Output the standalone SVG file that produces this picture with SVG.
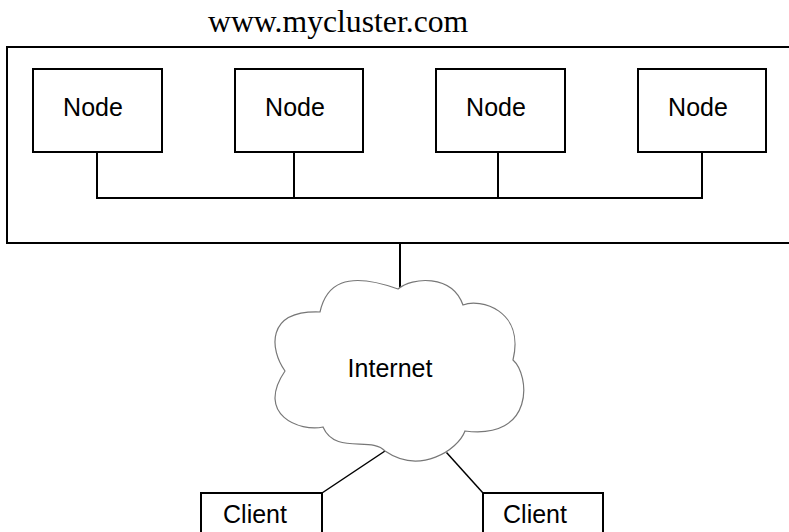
<svg xmlns="http://www.w3.org/2000/svg" width="789" height="532" viewBox="0 0 789 532">
<style>
.box{fill:#fff;stroke:#000;stroke-width:2}
.lbl{font-family:"Liberation Sans",Arial,sans-serif;font-size:25px;fill:#000;text-anchor:middle}
.ttl{font-family:"Liberation Serif","Times New Roman",serif;font-size:31.7px;fill:#000}
.wire{fill:none;stroke:#000;stroke-width:2}
.cwire{fill:none;stroke:#000;stroke-width:1.5}
.cloud{fill:#fff;stroke:#777;stroke-width:1.2}
</style>
<rect width="789" height="532" fill="#fff"/>
<text class="ttl" x="208" y="32">www.mycluster.com</text>
<g id="cluster">
<rect class="box" x="7" y="47" width="800" height="196"/>
</g>
<g id="connectors">
<path class="wire" d="M97 152V198H702V152M294 152V198M498 152V198"/>
<path class="wire" d="M400 243V289"/>
<path class="cwire" d="M322 493L385 451"/>
<path class="cwire" d="M483 493L446.5 452.5"/>
</g>
<g id="node1"><rect class="box" x="33" y="69" width="129" height="83"/><text class="lbl" x="93" y="116">Node</text></g>
<g id="node2"><rect class="box" x="235" y="69" width="128" height="83"/><text class="lbl" x="295" y="116">Node</text></g>
<g id="node3"><rect class="box" x="436" y="69" width="129" height="83"/><text class="lbl" x="496" y="116">Node</text></g>
<g id="node4"><rect class="box" x="638" y="69" width="128" height="83"/><text class="lbl" x="698" y="116">Node</text></g>
<g id="internet">
<path class="cloud" d="M398 289C412 277 452 274 463 305C480 298 525 310 513 360C530 375 535 440 465 431C458 450 420 475 385 451C372 436 335 455 323 427C300 432 255 415 285 371C270 350 265 310 320 312C326 285 345 270 398 289Z"/>
<text class="lbl" x="390" y="377">Internet</text>
</g>
<g id="client1"><rect class="box" x="201" y="493" width="121" height="60"/><text class="lbl" x="255" y="523">Client</text></g>
<g id="client2"><rect class="box" x="483" y="493" width="120" height="60"/><text class="lbl" x="535" y="523">Client</text></g>
</svg>
